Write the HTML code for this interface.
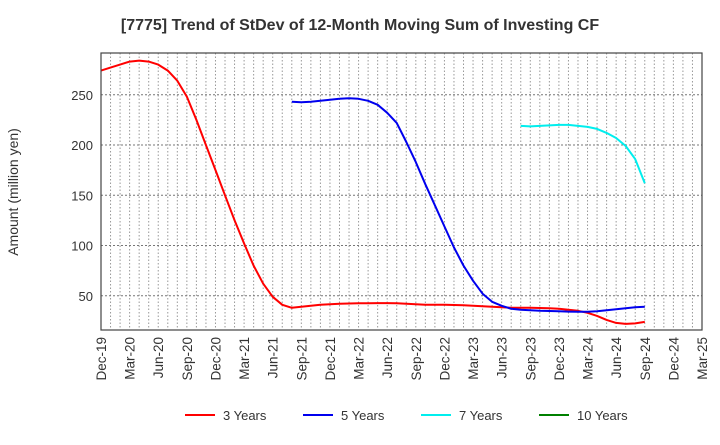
<!DOCTYPE html>
<html><head><meta charset="utf-8"><style>
body{margin:0;background:#fff;font-family:"Liberation Sans",sans-serif}
</style></head><body>
<svg id="c" width="720" height="440" font-family="Liberation Sans, sans-serif">
<text x="360" y="30" text-anchor="middle" font-size="16" font-weight="bold" fill="#333">[7775]  Trend of StDev of 12-Month Moving Sum of Investing CF</text>
<text transform="translate(18,192) rotate(-90)" text-anchor="middle" font-size="14" fill="#333">Amount (million yen)</text>
<g id="grid"></g><g id="series"></g><g id="axes"></g><g id="legend"></g>
</svg>
<script>
const xLabels=["Dec-19","Mar-20","Jun-20","Sep-20","Dec-20","Mar-21","Jun-21","Sep-21","Dec-21","Mar-22","Jun-22","Sep-22","Dec-22","Mar-23","Jun-23","Sep-23","Dec-23","Mar-24","Jun-24","Sep-24","Dec-24","Mar-25"];
const yTicks=[50,100,150,200,250];
const s3Start=0;
const s3=[274,277,280,283,284,283,280,274,264,248,225,200,175,150,125,102,80,62,49,41,38,39,40,41,41.5,42,42.3,42.5,42.6,42.7,42.7,42.5,42,41.5,41,41,41,40.8,40.5,40,39.5,39,38.5,38,38,38,37.8,37.5,37,36,35,33,30,26,23,22,22.5,24,25.5,26.5].slice(0,58);
const s5Start=20;
const s5=[243,242.5,243,244,245,246,246.5,246,244,240,232,222,203,183,161,140,119,98,80,65,52,44,40,37,36,35.5,35,34.8,34.5,34.2,34,34,34.5,35.5,36.5,37.5,38.5,39];
const s7Start=44;
const s7=[219,218.5,219,219.5,220,220,219,218,216,212,207,199,186,162];
const NS="http://www.w3.org/2000/svg";
const L=101,R=702,T=53,B=330,months=63;
const xs=m=>L+m*(R-L)/months;
const ys=v=>346-v*1.005;
function mk(tag,attrs,parent){const e=document.createElementNS(NS,tag);for(const k in attrs)e.setAttribute(k,attrs[k]);parent.appendChild(e);return e;}
const grid=document.getElementById('grid'),axes=document.getElementById('axes'),ser=document.getElementById('series'),leg=document.getElementById('legend');
for(let m=1;m<months;m++){const g=mk('line',{x1:xs(m),x2:xs(m),y1:T,y2:B,stroke:'#999','stroke-dasharray':'1.5,2','stroke-width':1},grid);

}
yTicks.forEach(v=>{const g=mk('line',{x1:L,x2:R,y1:ys(v),y2:ys(v),stroke:'#777','stroke-dasharray':'2,2','stroke-width':1},grid);


const t=mk('text',{x:L-8,y:ys(v)+5,'text-anchor':'end','font-size':13,fill:'#333'},axes);t.textContent=v;

});
const fr=mk('rect',{x:L,y:T,width:R-L,height:B-T,fill:'none',stroke:'#444','stroke-width':1.2},axes);


xLabels.forEach((lb,i)=>{const x=xs(i*3);const t=mk('text',{transform:`translate(${x+5},${B+7}) rotate(-90)`,'text-anchor':'end','font-size':13.5,fill:'#333'},axes);t.textContent=lb;

});
function line(arr,start,color,name){const d=arr.map((v,i)=>(i?'L':'M')+xs(start+i).toFixed(1)+','+ys(v).toFixed(1)).join('');
const p=mk('path',{d:d,fill:'none',stroke:color,'stroke-width':2,'stroke-linejoin':'round'},ser);

}
line(s3,s3Start,'#ff0000','series-3-years');
line(s5,s5Start,'#0000ee','series-5-years');
line(s7,s7Start,'#00eeee','series-7-years');
const items=[['3 Years','#ff0000',185],['5 Years','#0000ee',303],['7 Years','#00eeee',421],['10 Years','#008000',539]];
items.forEach(([n,c,x])=>{const g=mk('g',{},leg);


mk('line',{x1:x,x2:x+30,y1:415,y2:415,stroke:c,'stroke-width':2},g);
const t=mk('text',{x:x+38,y:420,'font-size':13,fill:'#333'},g);t.textContent=n;});
</script>
</body></html>
